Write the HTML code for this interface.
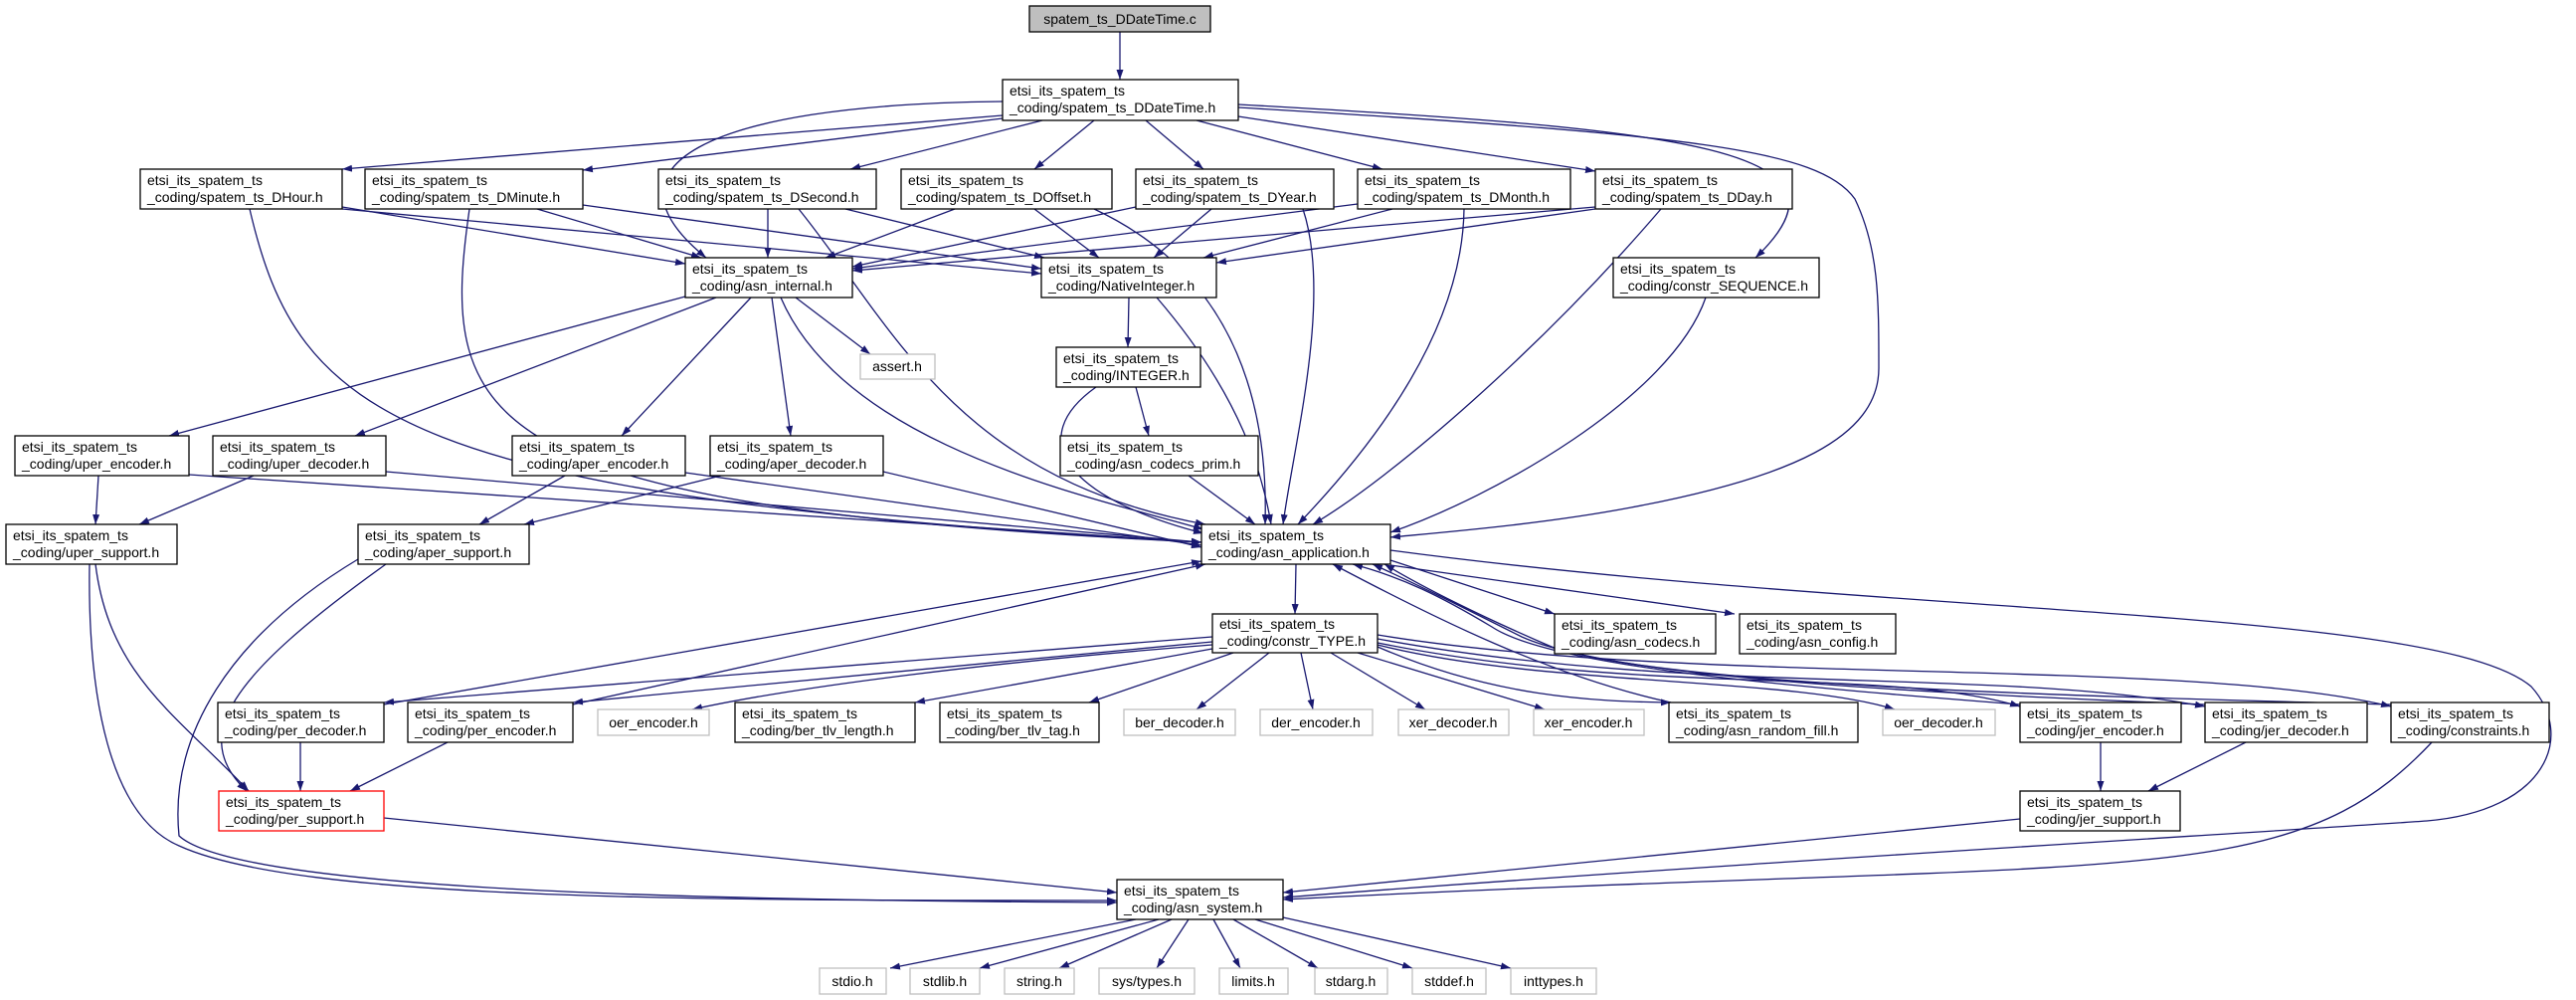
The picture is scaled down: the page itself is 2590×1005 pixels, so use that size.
<!DOCTYPE html>
<html><head><meta charset="utf-8"><style>
html,body{margin:0;padding:0;background:#fff;}
svg{display:block;}
text{font-family:"Liberation Sans",sans-serif;font-size:14px;fill:#000;}
.e{fill:none;stroke:#191970;stroke-width:1.3;marker-end:url(#a);}
.n{fill:#fff;stroke:#000;stroke-width:1.3;}
.g{fill:#fff;stroke:#bfbfbf;stroke-width:1.3;}
</style></head><body>
<svg width="2590" height="1005" viewBox="0 0 2590 1005" xmlns="http://www.w3.org/2000/svg">
<defs><marker id="a" markerUnits="userSpaceOnUse" markerWidth="11" markerHeight="8" refX="10" refY="3.5" orient="auto"><path d="M0,0 L10,3.5 L0,7 z" fill="#191970"/></marker></defs>

<!-- edges -->
<path class="e" d="M1126,32 L1126,80"/>
<path class="e" d="M1008,116 L344,170"/>
<path class="e" d="M1008,119 L586,171"/>
<path class="e" d="M1048,121 L855,170"/>
<path class="e" d="M1100,121 L1040,170"/>
<path class="e" d="M1152,121 L1210,170"/>
<path class="e" d="M1203,121 L1390,170"/>
<path class="e" d="M1245,117 L1604,172"/>
<path class="e" d="M1008,102 C700,105 600,170 710,259"/>
<path class="e" d="M1245,105 C1700,130 1880,150 1765,259"/>
<path class="e" d="M1245,108 C1700,135 1830,150 1865,200 C1889,250 1889,300 1889,370 C1889,440 1800,480 1640,510 C1550,527 1450,535 1398,540"/>

<path class="e" d="M344,208 L689,265"/>
<path class="e" d="M344,210 L1047,275"/>
<path class="e" d="M540,210 L705,259"/>
<path class="e" d="M586,206 L1047,270"/>
<path class="e" d="M772,210 L772,259"/>
<path class="e" d="M850,210 L1050,259"/>
<path class="e" d="M960,210 L830,259"/>
<path class="e" d="M1040,210 L1105,259"/>
<path class="e" d="M1142,208 L857,268"/>
<path class="e" d="M1218,210 L1160,259"/>
<path class="e" d="M1365,205 L857,270"/>
<path class="e" d="M1400,210 L1210,259"/>
<path class="e" d="M1604,208 L857,272"/>
<path class="e" d="M1604,210 L1223,264"/>

<path class="e" d="M251,210 C300,420 400,500 1208,545"/>
<path class="e" d="M472,210 C440,430 480,510 1208,545"/>
<path class="e" d="M803,210 C900,330 960,480 1212,527"/>
<path class="e" d="M1100,210 C1250,280 1275,420 1272,527"/>
<path class="e" d="M1310,210 C1340,300 1300,450 1290,527"/>
<path class="e" d="M1472,210 C1470,350 1350,480 1305,527"/>
<path class="e" d="M1670,210 C1550,350 1400,480 1320,527"/>
<path class="e" d="M1715,299 C1680,400 1500,500 1398,535"/>

<path class="e" d="M689,298 L170,438"/>
<path class="e" d="M720,299 L357,438"/>
<path class="e" d="M755,299 L625,438"/>
<path class="e" d="M776,299 L795,438"/>
<path class="e" d="M800,299 L875,356"/>
<path class="e" d="M785,299 C850,450 1100,500 1210,532"/>
<path class="e" d="M1135,299 L1134,349"/>
<path class="e" d="M1163,299 C1250,400 1270,480 1278,527"/>
<path class="e" d="M1102,389 C1030,440 1070,500 1210,536"/>
<path class="e" d="M1142,389 L1155,438"/>
<path class="e" d="M1195,478 L1262,527"/>

<path class="e" d="M99,478 L96,527"/>
<path class="e" d="M190,477 L1208,545"/>
<path class="e" d="M255,478 L140,527"/>
<path class="e" d="M388,474 L1208,545"/>
<path class="e" d="M568,478 L482,527"/>
<path class="e" d="M689,475 L1208,548"/>
<path class="e" d="M725,478 L527,527"/>
<path class="e" d="M888,474 L1208,550"/>

<path class="e" d="M96,567 C110,680 180,720 250,795"/>
<path class="e" d="M90,567 C88,700 110,820 180,850 C300,905 700,905 1123,905"/>
<path class="e" d="M360,562 C230,640 170,740 180,840 C240,895 700,905 1123,907"/>
<path class="e" d="M388,567 C230,680 190,740 248,795"/>
<path class="e" d="M386,822 L1123,897"/>

<path class="e" d="M1303,567 L1302,617"/>
<path class="e" d="M1398,563 L1563,617"/>
<path class="e" d="M1398,568 L1744,617"/>
<path class="e" d="M1398,553 C1900,620 2450,610 2545,690 C2590,740 2560,815 2440,825 C2300,835 1700,870 1290,902"/>

<path class="e" d="M1219,640 L386,706"/>
<path class="e" d="M1219,645 L576,706"/>
<path class="e" d="M1219,648 C1000,665 800,690 696,713"/>
<path class="e" d="M1219,652 L920,706"/>
<path class="e" d="M1240,656 L1095,706"/>
<path class="e" d="M1276,656 L1203,713"/>
<path class="e" d="M1308,656 L1320,713"/>
<path class="e" d="M1338,656 L1433,713"/>
<path class="e" d="M1365,656 L1553,713"/>
<path class="e" d="M1385,650 C1500,700 1600,705 1680,706"/>
<path class="e" d="M1385,648 C1550,690 1800,680 1905,713"/>
<path class="e" d="M1385,646 C1650,700 1900,670 2031,710"/>
<path class="e" d="M1385,642 C1700,700 2000,670 2217,710"/>
<path class="e" d="M1385,638 C1700,690 2200,660 2404,710"/>

<path class="e" d="M386,708 L1208,564"/>
<path class="e" d="M576,708 L1212,567"/>
<path class="e" d="M302,746 L302,795"/>
<path class="e" d="M450,746 L352,795"/>
<path class="e" d="M1680,706 C1560,680 1440,620 1340,567"/>
<path class="e" d="M2031,708 C1800,690 1560,670 1500,630 C1450,600 1410,580 1360,567"/>
<path class="e" d="M2217,708 C1900,695 1620,680 1530,640 C1470,610 1420,585 1380,567"/>
<path class="e" d="M2404,708 C2100,700 1680,690 1560,650 C1490,620 1430,590 1392,567"/>
<path class="e" d="M2112,746 L2112,795"/>
<path class="e" d="M2258,746 L2160,795"/>
<path class="e" d="M2031,823 L1290,897"/>
<path class="e" d="M2445,746 C2300,900 2150,860 1290,904"/>

<path class="e" d="M1142,924 L895,973"/>
<path class="e" d="M1165,924 L985,973"/>
<path class="e" d="M1178,924 L1065,973"/>
<path class="e" d="M1195,924 L1163,973"/>
<path class="e" d="M1220,924 L1247,973"/>
<path class="e" d="M1240,924 L1325,973"/>
<path class="e" d="M1262,924 L1420,973"/>
<path class="e" d="M1290,922 L1519,973"/>

<!-- nodes -->
<rect x="1035" y="6" width="182" height="26" fill="#bfbfbf" stroke="#000" stroke-width="1.3"/>
<text x="1126" y="24" text-anchor="middle">spatem_ts_DDateTime.c</text>

<g>
<rect class="n" x="1008" y="80" width="237" height="41"/><text x="1015" y="96">etsi_its_spatem_ts</text><text x="1015" y="113">_coding/spatem_ts_DDateTime.h</text>
<rect class="n" x="141" y="170" width="203" height="40"/><text x="148" y="186">etsi_its_spatem_ts</text><text x="148" y="203">_coding/spatem_ts_DHour.h</text>
<rect class="n" x="367" y="170" width="219" height="40"/><text x="374" y="186">etsi_its_spatem_ts</text><text x="374" y="203">_coding/spatem_ts_DMinute.h</text>
<rect class="n" x="662" y="170" width="219" height="40"/><text x="669" y="186">etsi_its_spatem_ts</text><text x="669" y="203">_coding/spatem_ts_DSecond.h</text>
<rect class="n" x="906" y="170" width="212" height="40"/><text x="913" y="186">etsi_its_spatem_ts</text><text x="913" y="203">_coding/spatem_ts_DOffset.h</text>
<rect class="n" x="1142" y="170" width="199" height="40"/><text x="1149" y="186">etsi_its_spatem_ts</text><text x="1149" y="203">_coding/spatem_ts_DYear.h</text>
<rect class="n" x="1365" y="170" width="214" height="40"/><text x="1372" y="186">etsi_its_spatem_ts</text><text x="1372" y="203">_coding/spatem_ts_DMonth.h</text>
<rect class="n" x="1604" y="170" width="198" height="40"/><text x="1611" y="186">etsi_its_spatem_ts</text><text x="1611" y="203">_coding/spatem_ts_DDay.h</text>

<rect class="n" x="689" y="259" width="168" height="40"/><text x="696" y="275">etsi_its_spatem_ts</text><text x="696" y="292">_coding/asn_internal.h</text>
<rect class="n" x="1047" y="259" width="176" height="40"/><text x="1054" y="275">etsi_its_spatem_ts</text><text x="1054" y="292">_coding/NativeInteger.h</text>
<rect class="n" x="1622" y="259" width="207" height="40"/><text x="1629" y="275">etsi_its_spatem_ts</text><text x="1629" y="292">_coding/constr_SEQUENCE.h</text>

<rect class="g" x="865" y="356" width="75" height="25"/><text x="902" y="373" text-anchor="middle">assert.h</text>
<rect class="n" x="1062" y="349" width="145" height="40"/><text x="1069" y="365">etsi_its_spatem_ts</text><text x="1069" y="382">_coding/INTEGER.h</text>

<rect class="n" x="15" y="438" width="175" height="40"/><text x="22" y="454">etsi_its_spatem_ts</text><text x="22" y="471">_coding/uper_encoder.h</text>
<rect class="n" x="214" y="438" width="174" height="40"/><text x="221" y="454">etsi_its_spatem_ts</text><text x="221" y="471">_coding/uper_decoder.h</text>
<rect class="n" x="515" y="438" width="174" height="40"/><text x="522" y="454">etsi_its_spatem_ts</text><text x="522" y="471">_coding/aper_encoder.h</text>
<rect class="n" x="714" y="438" width="174" height="40"/><text x="721" y="454">etsi_its_spatem_ts</text><text x="721" y="471">_coding/aper_decoder.h</text>
<rect class="n" x="1066" y="438" width="199" height="40"/><text x="1073" y="454">etsi_its_spatem_ts</text><text x="1073" y="471">_coding/asn_codecs_prim.h</text>

<rect class="n" x="6" y="527" width="172" height="40"/><text x="13" y="543">etsi_its_spatem_ts</text><text x="13" y="560">_coding/uper_support.h</text>
<rect class="n" x="360" y="527" width="172" height="40"/><text x="367" y="543">etsi_its_spatem_ts</text><text x="367" y="560">_coding/aper_support.h</text>
<rect class="n" x="1208" y="527" width="190" height="40"/><text x="1215" y="543">etsi_its_spatem_ts</text><text x="1215" y="560">_coding/asn_application.h</text>

<rect class="n" x="1219" y="617" width="166" height="39"/><text x="1226" y="632">etsi_its_spatem_ts</text><text x="1226" y="649">_coding/constr_TYPE.h</text>
<rect class="n" x="1563" y="617" width="162" height="40"/><text x="1570" y="633">etsi_its_spatem_ts</text><text x="1570" y="650">_coding/asn_codecs.h</text>
<rect class="n" x="1749" y="617" width="157" height="40"/><text x="1756" y="633">etsi_its_spatem_ts</text><text x="1756" y="650">_coding/asn_config.h</text>

<rect class="n" x="219" y="706" width="167" height="40"/><text x="226" y="722">etsi_its_spatem_ts</text><text x="226" y="739">_coding/per_decoder.h</text>
<rect class="n" x="410" y="706" width="166" height="40"/><text x="417" y="722">etsi_its_spatem_ts</text><text x="417" y="739">_coding/per_encoder.h</text>
<rect class="g" x="601" y="713" width="112" height="26"/><text x="657" y="731" text-anchor="middle">oer_encoder.h</text>
<rect class="n" x="739" y="706" width="181" height="40"/><text x="746" y="722">etsi_its_spatem_ts</text><text x="746" y="739">_coding/ber_tlv_length.h</text>
<rect class="n" x="945" y="706" width="160" height="40"/><text x="952" y="722">etsi_its_spatem_ts</text><text x="952" y="739">_coding/ber_tlv_tag.h</text>
<rect class="g" x="1130" y="713" width="112" height="26"/><text x="1186" y="731" text-anchor="middle">ber_decoder.h</text>
<rect class="g" x="1267" y="713" width="113" height="26"/><text x="1323" y="731" text-anchor="middle">der_encoder.h</text>
<rect class="g" x="1406" y="713" width="111" height="26"/><text x="1461" y="731" text-anchor="middle">xer_decoder.h</text>
<rect class="g" x="1542" y="713" width="111" height="26"/><text x="1597" y="731" text-anchor="middle">xer_encoder.h</text>
<rect class="n" x="1678" y="706" width="190" height="40"/><text x="1685" y="722">etsi_its_spatem_ts</text><text x="1685" y="739">_coding/asn_random_fill.h</text>
<rect class="g" x="1893" y="713" width="113" height="26"/><text x="1949" y="731" text-anchor="middle">oer_decoder.h</text>
<rect class="n" x="2031" y="706" width="162" height="40"/><text x="2038" y="722">etsi_its_spatem_ts</text><text x="2038" y="739">_coding/jer_encoder.h</text>
<rect class="n" x="2217" y="706" width="163" height="40"/><text x="2224" y="722">etsi_its_spatem_ts</text><text x="2224" y="739">_coding/jer_decoder.h</text>
<rect class="n" x="2404" y="706" width="159" height="40"/><text x="2411" y="722">etsi_its_spatem_ts</text><text x="2411" y="739">_coding/constraints.h</text>

<rect x="220" y="795" width="166" height="40" fill="#fff" stroke="#ff0000" stroke-width="1.3"/><text x="227" y="811">etsi_its_spatem_ts</text><text x="227" y="828">_coding/per_support.h</text>
<rect class="n" x="2031" y="795" width="161" height="40"/><text x="2038" y="811">etsi_its_spatem_ts</text><text x="2038" y="828">_coding/jer_support.h</text>

<rect class="n" x="1123" y="884" width="167" height="40"/><text x="1130" y="900">etsi_its_spatem_ts</text><text x="1130" y="917">_coding/asn_system.h</text>

<rect class="g" x="824" y="973" width="67" height="26"/><text x="857" y="991" text-anchor="middle">stdio.h</text>
<rect class="g" x="915" y="973" width="70" height="26"/><text x="950" y="991" text-anchor="middle">stdlib.h</text>
<rect class="g" x="1010" y="973" width="70" height="26"/><text x="1045" y="991" text-anchor="middle">string.h</text>
<rect class="g" x="1105" y="973" width="96" height="26"/><text x="1153" y="991" text-anchor="middle">sys/types.h</text>
<rect class="g" x="1226" y="973" width="69" height="26"/><text x="1260" y="991" text-anchor="middle">limits.h</text>
<rect class="g" x="1322" y="973" width="73" height="26"/><text x="1358" y="991" text-anchor="middle">stdarg.h</text>
<rect class="g" x="1420" y="973" width="74" height="26"/><text x="1457" y="991" text-anchor="middle">stddef.h</text>
<rect class="g" x="1519" y="973" width="86" height="26"/><text x="1562" y="991" text-anchor="middle">inttypes.h</text>
</g>
</svg>
</body></html>
